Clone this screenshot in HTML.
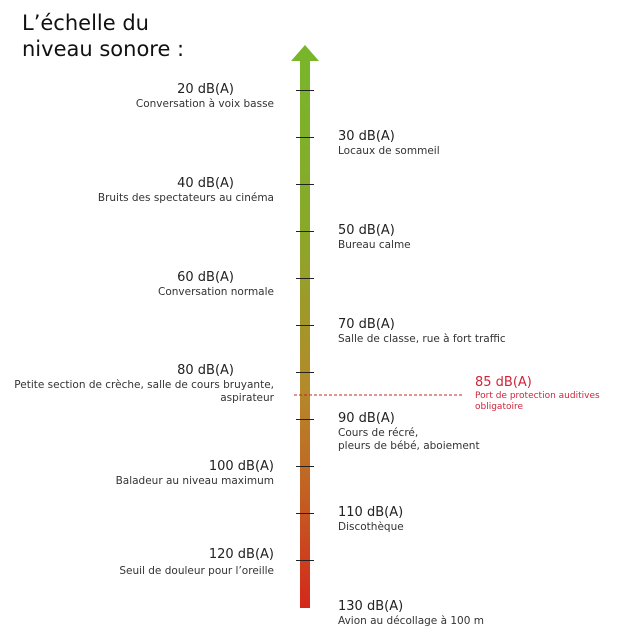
<!DOCTYPE html>
<html><head><meta charset="utf-8"><style>
body{margin:0;width:618px;height:639px;background:#fff;font-family:"DejaVu Sans","Liberation Sans",sans-serif;position:relative;overflow:hidden}
.t{position:absolute;left:22px;top:10px;font-size:21px;line-height:26px;color:#111}
.l{position:absolute;right:344px;text-align:right;color:#222}
.r{position:absolute;left:338px;color:#222}
.h{font-size:13px;line-height:16px}
.l .h.c{margin-right:40px}
.s{font-size:10.5px;line-height:13px;color:#333}
.tick{position:absolute;left:296px;width:18px;height:1px;background:#222}
</style></head><body>
<div class="t">L’échelle du<br>niveau sonore :</div>
<svg style="position:absolute;left:0;top:0" width="618" height="639">
<defs><linearGradient id="g" x1="0" y1="0" x2="0" y2="1">
<stop offset="0" stop-color="#79b52b"/><stop offset="0.3" stop-color="#88a92a"/><stop offset="0.6" stop-color="#b48a2a"/><stop offset="0.8" stop-color="#c45e22"/><stop offset="1" stop-color="#d4281a"/></linearGradient></defs>
<rect x="300" y="58" width="10" height="550" fill="url(#g)"/>
<polygon points="291,61 305,45 319,61" fill="#79b52b"/>
<line x1="294" y1="395" x2="463" y2="395" stroke="#c0282e" stroke-width="1" stroke-dasharray="3,2"/>
</svg>
<div class="tick" style="top:90px"></div><div class="tick" style="top:137px"></div>
<div class="tick" style="top:184px"></div><div class="tick" style="top:231px"></div>
<div class="tick" style="top:278px"></div><div class="tick" style="top:325px"></div>
<div class="tick" style="top:372px"></div><div class="tick" style="top:419px"></div>
<div class="tick" style="top:466px"></div><div class="tick" style="top:513px"></div>
<div class="tick" style="top:560px"></div>
<div class="l" style="top:82px"><div class="h c">20 dB(A)</div><div class="s">Conversation à voix basse</div></div>
<div class="r" style="top:129px"><div class="h">30 dB(A)</div><div class="s">Locaux de sommeil</div></div>
<div class="l" style="top:176px"><div class="h c">40 dB(A)</div><div class="s">Bruits des spectateurs au cinéma</div></div>
<div class="r" style="top:223px"><div class="h">50 dB(A)</div><div class="s">Bureau calme</div></div>
<div class="l" style="top:270px"><div class="h c">60 dB(A)</div><div class="s">Conversation normale</div></div>
<div class="r" style="top:317px"><div class="h">70 dB(A)</div><div class="s">Salle de classe, rue à fort traffic</div></div>
<div class="l" style="top:363px"><div class="h c">80 dB(A)</div><div class="s">Petite section de crèche, salle de cours bruyante,<br>aspirateur</div></div>
<div class="r" style="left:475px;top:375px;color:#d0253a"><div class="h" style="color:#d0253a">85 dB(A)</div><div class="s" style="color:#d0253a;font-size:9px;line-height:11px">Port de protection auditives<br>obligatoire</div></div>
<div class="r" style="top:411px"><div class="h">90 dB(A)</div><div class="s">Cours de récré,<br>pleurs de bébé, aboiement</div></div>
<div class="l" style="top:459px"><div class="h">100 dB(A)</div><div class="s">Baladeur au niveau maximum</div></div>
<div class="r" style="top:505px"><div class="h">110 dB(A)</div><div class="s">Discothèque</div></div>
<div class="l" style="top:547px"><div class="h">120 dB(A)</div><div class="s" style="margin-top:2px">Seuil de douleur pour l’oreille</div></div>
<div class="r" style="top:599px"><div class="h">130 dB(A)</div><div class="s">Avion au décollage à 100 m</div></div>
</body></html>
